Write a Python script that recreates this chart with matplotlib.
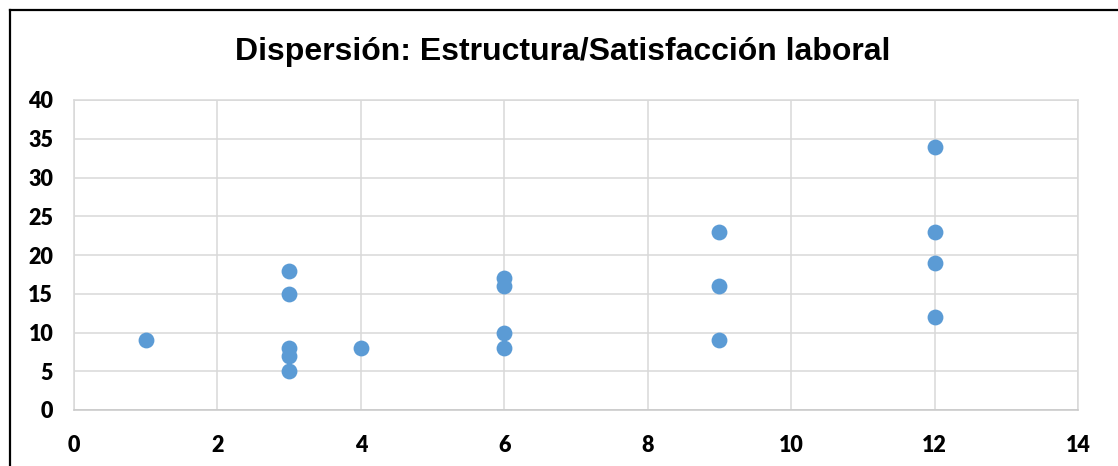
import matplotlib
matplotlib.use("Agg")
import matplotlib.pyplot as plt
from matplotlib.lines import Line2D

# Estructura (x) vs. Satisfacción laboral (y)
estructura = [1, 3, 3, 3, 3, 3, 4, 6, 6, 6, 6, 9, 9, 9, 12, 12, 12, 12]
satisfaccion = [9, 18, 15, 8, 7, 5, 8, 17, 16, 10, 8, 23, 16, 9, 34, 23, 19, 12]

x_ticks = [0, 2, 4, 6, 8, 10, 12, 14]
y_ticks = [0, 5, 10, 15, 20, 25, 30, 35, 40]
title = "Dispersión: Estructura/Satisfacción laboral"

W, H, DPI = 1118, 466, 100
fig = plt.figure(figsize=(W / DPI, H / DPI), dpi=DPI)
fig.patch.set_facecolor("white")

ax = fig.add_axes([74 / W, 1 - 410 / H, (1078 - 74) / W, (410 - 100) / H])
ax.scatter(estructura, satisfaccion, s=130, color="#5B9BD5", zorder=3,
           linewidths=0)

ax.set_xlim(x_ticks[0], x_ticks[-1])
ax.set_ylim(y_ticks[0], y_ticks[-1])
ax.set_xticks(x_ticks)
ax.set_yticks(y_ticks)
ax.grid(True, color="#D9D9D9", linewidth=1.1, zorder=0)
for sp in ax.spines.values():
    sp.set_color("#D9D9D9")
    sp.set_linewidth(1.1)
ax.spines["bottom"].set_color("#C8C8C8")
ax.tick_params(length=0)
ax.tick_params(axis="y", pad=15)
ax.tick_params(axis="x", pad=18)
for lab in ax.get_xticklabels() + ax.get_yticklabels():
    lab.set_fontfamily("Lato")
    lab.set_fontweight("heavy")
    lab.set_fontsize(15.5)
    lab.set_color("#000000")

fig.text(563 / W, 1 - 52 / H, title, ha="center", va="center",
         fontsize=23, fontweight="bold", family="Liberation Sans")

# Frame around the chart area (top and left edges)
fig.add_artist(Line2D([10 / W, 1.0], [1 - 10 / H, 1 - 10 / H],
                      transform=fig.transFigure, color="black", linewidth=1.6))
fig.add_artist(Line2D([10 / W, 10 / W], [0.0, 1 - 10 / H],
                      transform=fig.transFigure, color="black", linewidth=1.6))

fig.savefig("out.png", dpi=DPI)
